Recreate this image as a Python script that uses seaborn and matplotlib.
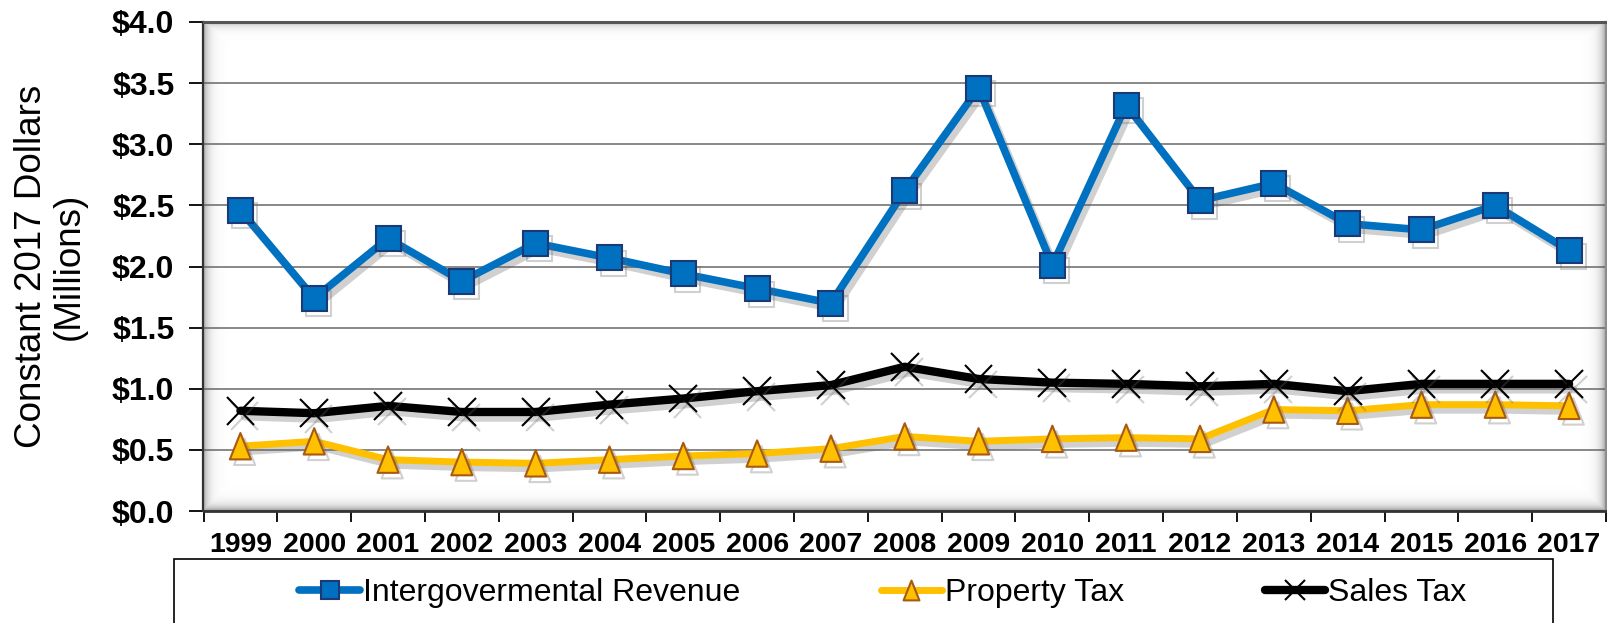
import numpy as np
import matplotlib
matplotlib.use("Agg")
import matplotlib.pyplot as plt
import matplotlib.patheffects as pe
from matplotlib.lines import Line2D
from matplotlib.patches import Rectangle
from matplotlib.path import Path
import seaborn as sns

# data (millions of constant 2017 dollars)
years = [str(y) for y in range(1999, 2018)]
intergov = [2.46, 1.74, 2.23, 1.88, 2.19, 2.07, 1.94, 1.82, 1.70, 2.62,
            3.46, 2.01, 3.32, 2.54, 2.68, 2.35, 2.30, 2.50, 2.13]
property_tax = [0.53, 0.57, 0.42, 0.40, 0.39, 0.42, 0.45, 0.47, 0.51, 0.61,
                0.57, 0.59, 0.60, 0.59, 0.83, 0.82, 0.87, 0.87, 0.86]
sales_tax = [0.82, 0.80, 0.86, 0.81, 0.81, 0.87, 0.92, 0.98, 1.03, 1.18,
             1.08, 1.05, 1.04, 1.02, 1.04, 0.98, 1.04, 1.04, 1.04]
yticks = [0.0, 0.5, 1.0, 1.5, 2.0, 2.5, 3.0, 3.5, 4.0]
series_names = ['Intergovermental Revenue', 'Property Tax', 'Sales Tax']

sns.set_theme(style="white")
plt.rcParams['font.family'] = ['Liberation Sans', 'DejaVu Sans']
plt.rcParams.update({'text.color': 'black', 'axes.labelcolor': 'black',
                     'xtick.color': 'black', 'ytick.color': 'black'})

fig = plt.figure(figsize=(16.08, 6.23), dpi=100)
W, H = 1608, 623
ax = fig.add_axes([203.5 / W, 1 - 511 / H, (1606 - 203.5) / W, (511 - 22) / H])

# inner shadow of the plot area (Excel style)
ph, pw = 489, 1402
yy, xx = np.mgrid[0:ph, 0:pw]
alpha = np.maximum.reduce([
    0.55 * np.exp(-xx / 5.0),
    0.55 * np.exp(-(pw - 1 - xx) / 5.0),
    0.60 * np.exp(-(ph - 1 - yy) / 5.0),
    0.40 * np.exp(-yy / 4.0),
])
rgba = np.zeros((ph, pw, 4))
rgba[..., :3] = 0.35
rgba[..., 3] = alpha
ax.imshow(rgba, extent=(0, 1, 0, 1), transform=ax.transAxes, aspect='auto',
          zorder=1, interpolation='bilinear')

shadow = [pe.SimpleLineShadow(offset=(3, -4), shadow_color='#666666', alpha=0.3), pe.Normal()]
tri = Path([(-0.8, -1), (0.8, -1), (0, 1), (-0.8, -1)], closed=True)

styles = [
    dict(color='#0070C0', lw=5.5, marker='s', markersize=18, markerfacecolor='#0070C0',
         markeredgecolor='#1B3A75', markeredgewidth=1.5),
    dict(color='#FFC000', lw=5, marker=tri, markersize=19, markerfacecolor='#FFC000',
         markeredgecolor='#A85A12', markeredgewidth=1.5),
    dict(color='black', lw=6, marker='x', markersize=20, markeredgecolor='black',
         markeredgewidth=1.5),
]

for vals, name, st, z in zip([intergov, property_tax, sales_tax], series_names, styles, [5, 3, 4]):
    sns.lineplot(x=years, y=vals, ax=ax, path_effects=shadow, zorder=z, legend=False, **st)

ax.set_xlim(-0.5, len(years) - 0.5)
ax.set_ylim(0, 4)
ax.set_aspect('auto')

ax.set_yticks(yticks)
ax.set_yticklabels([f"${v:.1f}" for v in yticks], fontsize=23, fontweight='bold')
ax.set_xticks(range(len(years)))
ax.set_xticklabels(years, fontsize=20.5, fontweight='bold')
ax.set_xticks(np.arange(-0.5, len(years), 1), minor=True)
ax.tick_params(axis='x', which='major', length=0, pad=15)
ax.tick_params(axis='x', which='minor', length=8, width=1.3, direction='out', bottom=True)
ax.tick_params(axis='y', which='major', length=10, width=1.3, direction='out', pad=11, left=True)

ax.grid(axis='y', color='#7f7f7f', lw=1.3, zorder=0)
ax.set_axisbelow(True)

for side, col, w in [('left', '#333333', 1.6), ('bottom', '#333333', 2.0),
                     ('top', '#555555', 2.2), ('right', '#8c8c8c', 1.5)]:
    ax.spines[side].set_color(col)
    ax.spines[side].set_linewidth(w)

ax.set_xlabel('')
ax.set_ylabel('Constant 2017 Dollars\n(Millions)', fontsize=26.5, linespacing=1.12)
ax.yaxis.set_label_coords(-0.083, 0.5)

# legend
handles = [Line2D([], [], **dict(st, markersize=st['markersize'] * 0.75)) for st in styles]
fig.legend(handles, series_names, loc='center', bbox_to_anchor=(883 / W, 1 - 593 / H),
           ncol=3, frameon=False, fontsize=23, handlelength=1.9, handletextpad=0.1,
           columnspacing=4.4)
fig.add_artist(Rectangle((174 / W, -0.05), (1553 - 174) / W, 0.05 + 1 - 559 / H,
                         transform=fig.transFigure, fill=False, edgecolor='black', lw=1.2))

fig.savefig('out.png', dpi=100)
plt.close(fig)
